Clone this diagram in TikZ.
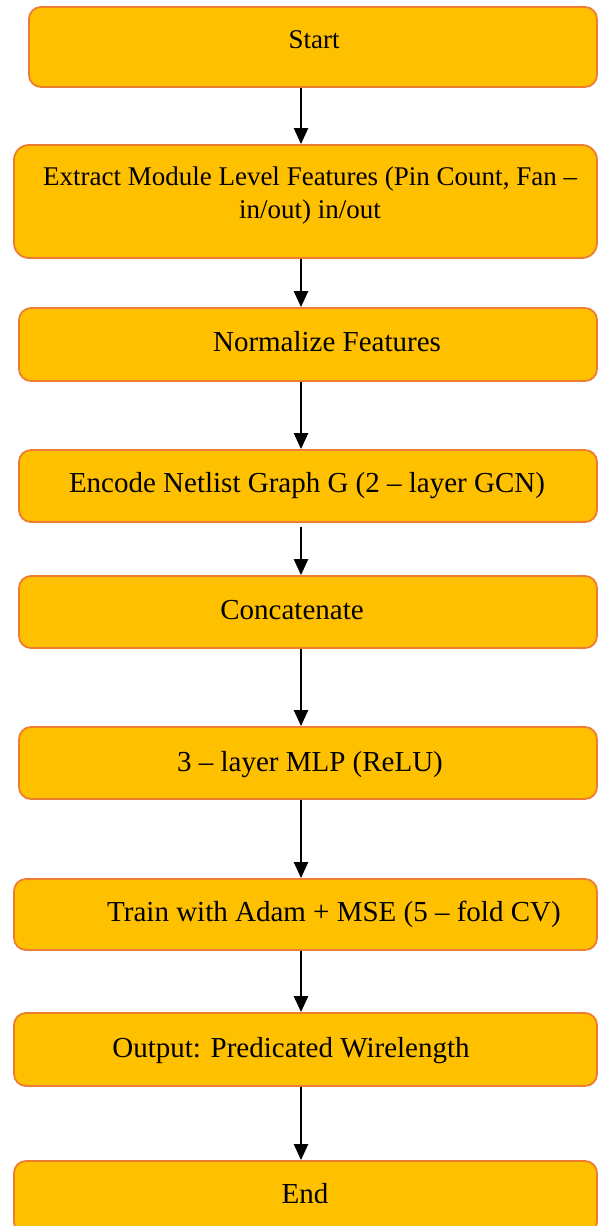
\documentclass[tikz,border=0pt]{standalone}
\usepackage{fontspec}
\setmainfont{Liberation Serif}
\usetikzlibrary{arrows.meta}
\definecolor{boxfill}{HTML}{FFC000}
\definecolor{boxline}{HTML}{ED7D31}
\begin{document}
\begin{tikzpicture}[
 x=.5pt,y=-.5pt,
 stepbox/.style={draw=boxline,fill=boxfill,line width=.9pt,rounded corners=6pt,
  inner sep=0pt,minimum width=291.5pt,minimum height=36.5pt},
 lbl/.style={inner sep=0pt,anchor=base,font=\fontsize{14.5}{17.5}\selectfont},
 lblsmall/.style={lbl,font=\fontsize{13.5}{16.5}\selectfont},
 flow/.style={line width=1.2pt,-{Triangle[length=8pt,width=7pt]}}]
 \useasboundingbox (0,0) rectangle (600,1226);
 % boxes
 \node[stepbox,minimum width=284pt,minimum height=40pt] (start) at (313,47){};
 \node[stepbox,minimum height=56.5pt,rounded corners=7.5pt] (extract) at (305.5,201.5){};
 \node[stepbox,minimum width=289pt] (norm) at (308,344.5){};
 \node[stepbox,minimum width=289pt,minimum height=36pt] (encode) at (308,486){};
 \node[stepbox,minimum width=289pt,minimum height=36pt] (concat) at (308,612){};
 \node[stepbox,minimum width=289pt,minimum height=36pt] (mlp) at (308,763){};
 \node[stepbox,minimum height=35.5pt] (train) at (305.5,914.5){};
 \node[stepbox] (output) at (305.5,1049.5){};
 \node[stepbox] (end) at (305.5,1197.5){};
 % texts
 \node[lblsmall] (startlbl) at (314,48){Start};
 \node[lblsmall] (extractlbl1) at (310,185){Extract Module Level Features (Pin Count, Fan --};
 \node[lblsmall] (extractlbl2) at (310,218){in/out) in/out};
 \node[lbl] (normlbl) at (327,351){Normalize Features};
 \node[lbl] (encodelbl) at (307,492){Encode Netlist Graph G (2 -- layer GCN)};
 \node[lbl] (concatlbl) at (292,619){Concatenate};
 \node[lbl] (mlplbl) at (310,771){3 -- layer MLP (ReLU)};
 \node[lbl] (trainlbl) at (334,921){Train with Adam + MSE (5 -- fold CV)};
 \node[lbl] (outputlbl) at (291,1057){Output: Predicated Wirelength};
 \node[lbl] (endlbl) at (305,1203){End};
 % arrows
 \coordinate (spine) at (301,0);
 \draw[flow] (start.south -| spine) -- (extract.north -| spine);
 \draw[flow] (extract.south -| spine) -- (norm.north -| spine);
 \draw[flow] (norm.south -| spine) -- (encode.north -| spine);
 \draw[flow] ([yshift=-2pt]encode.south -| spine) -- (concat.north -| spine);
 \draw[flow] (concat.south -| spine) -- (mlp.north -| spine);
 \draw[flow] (mlp.south -| spine) -- (train.north -| spine);
 \draw[flow] (train.south -| spine) -- (output.north -| spine);
 \draw[flow] (output.south -| spine) -- (end.north -| spine);
\end{tikzpicture}
\end{document}
